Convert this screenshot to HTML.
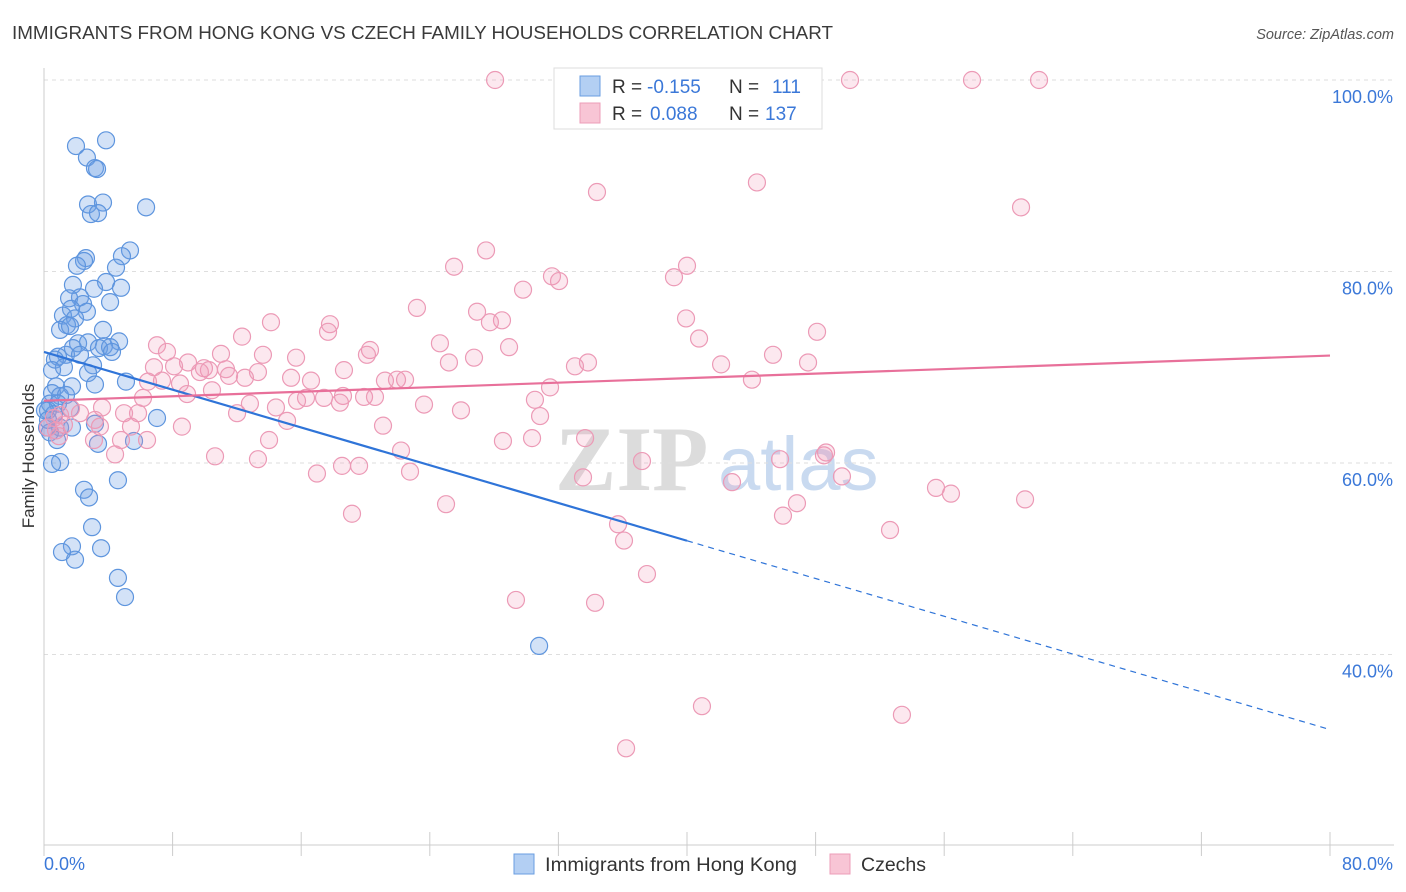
<!DOCTYPE html>
<html><head><meta charset="utf-8"><style>
body{margin:0;background:#fff;font-family:"Liberation Sans",sans-serif;}
svg{display:block}
</style></head><body>
<svg id="chart" width="1406" height="892" xmlns="http://www.w3.org/2000/svg">
<text x="12" y="39" font-size="18" fill="#3a3a3a" textLength="821" lengthAdjust="spacingAndGlyphs">IMMIGRANTS FROM HONG KONG VS CZECH FAMILY HOUSEHOLDS CORRELATION CHART</text>
<text x="1394" y="39" font-size="14.5" font-style="italic" fill="#555" text-anchor="end">Source: ZipAtlas.com</text>
<text transform="translate(34,456) rotate(-90)" font-size="17" fill="#333" text-anchor="middle">Family Households</text>
<g>
<text x="555" y="490" font-size="92" font-family="Liberation Serif,serif" fill="#dcdcdc" font-weight="bold">ZIP</text>
<text x="718" y="490" font-size="76" fill="#c9daf0">atlas</text>
</g>
<g id="grid"></g>
<g id="axes"></g>
<g id="pts"></g>
<g id="trend"></g>
<g>
<rect x="554" y="68" width="268" height="61" fill="#fff" stroke="#ddd"/>
<rect x="580" y="76" width="20" height="20" fill="#b3cff3" stroke="#6a9ee0"/>
<rect x="580" y="103" width="20" height="20" fill="#f8c5d5" stroke="#ec9db8"/>
<text x="612" y="93" font-size="19" fill="#333">R =</text>
<text x="647" y="93" font-size="19" fill="#3b78d8">-0.155</text>
<text x="729" y="93" font-size="19" fill="#333">N =</text>
<text x="772" y="93" font-size="19" fill="#3b78d8">111</text>
<text x="612" y="120" font-size="19" fill="#333">R =</text>
<text x="650" y="120" font-size="19" fill="#3b78d8">0.088</text>
<text x="729" y="120" font-size="19" fill="#333">N =</text>
<text x="765" y="120" font-size="19" fill="#3b78d8">137</text>
</g>
<g>
<rect x="514" y="854" width="20" height="20" fill="#b3cff3" stroke="#6a9ee0"/>
<text x="545" y="871" font-size="19" fill="#333" textLength="252" lengthAdjust="spacingAndGlyphs">Immigrants from Hong Kong</text>
<rect x="830" y="854" width="20" height="20" fill="#f8c5d5" stroke="#ec9db8"/>
<text x="861" y="871" font-size="19" fill="#333" textLength="65" lengthAdjust="spacingAndGlyphs">Czechs</text>
</g>
</svg>
<script>
const yTicks=[100,80,60,40];
const yTickLabels=["100.0%","80.0%","60.0%","40.0%"];
const xTicks=[0,8,16,24,32,40,48,56,64,72,80];
const blueX=[3.86,1.99,2.67,3.17,3.30,2.74,3.67,2.92,3.36,6.35,5.35,4.85,2.61,2.49,2.05,4.48,3.86,4.79,1.80,3.11,2.24,1.56,4.11,2.43,1.68,2.67,1.18,1.93,1.43,1.00,1.62,3.67,4.67,2.12,2.74,3.73,3.42,4.11,1.80,1.37,0.87,2.24,4.23,0.68,3.05,1.24,0.50,2.74,5.10,3.17,0.75,1.74,0.50,1.00,1.37,0.37,0.87,0.25,1.62,0.62,0.19,1.00,1.74,0.37,3.17,5.60,3.36,0.81,1.00,0.50,4.60,2.49,2.80,2.99,1.74,3.55,1.12,1.93,4.60,5.04,7.03,30.8,0.06,0.25];
const blueY=[93.7,93.1,91.9,90.8,90.7,87.0,87.2,86.0,86.1,86.7,82.2,81.6,81.4,81.1,80.6,80.4,78.9,78.3,78.6,78.2,77.3,77.2,76.8,76.6,76.1,75.8,75.4,75.1,74.4,73.9,74.3,73.9,72.7,72.5,72.6,72.2,72.0,72.1,72.0,71.3,71.1,71.3,71.6,70.8,70.2,70.0,69.7,69.4,68.5,68.2,68.0,68.0,67.3,67.0,67.1,66.2,66.2,65.5,65.7,65.1,63.7,63.7,63.7,63.2,64.1,62.3,62.0,62.4,60.1,59.9,58.2,57.2,56.4,53.3,51.3,51.1,50.7,49.9,48.0,46.0,64.7,40.9,65.5,64.5];
const pinkX=[28.06,41.74,50.14,57.73,61.90,34.40,44.35,60.78,27.50,25.51,31.60,32.04,40.00,39.19,29.80,23.20,26.94,28.49,27.74,39.94,14.12,17.79,17.67,12.32,48.09,7.03,24.63,28.93,20.28,20.09,40.75,45.35,47.53,7.65,13.62,15.68,11.01,8.96,26.75,25.19,33.84,33.03,42.12,6.84,8.09,9.95,11.32,10.26,13.31,9.70,11.51,12.50,18.66,44.04,15.37,16.61,21.21,21.96,22.46,31.48,7.34,6.47,8.46,10.45,8.90,6.16,16.30,18.60,17.42,15.74,19.91,20.59,18.41,30.54,23.64,12.81,14.43,25.94,12.01,5.85,1.68,3.61,4.98,2.24,0.62,30.86,3.17,15.12,1.24,8.58,3.48,5.41,21.09,0.75,3.11,4.79,0.93,4.42,14.00,6.41,28.55,30.36,33.66,22.21,13.31,10.64,37.20,45.79,48.52,48.65,19.60,18.54,16.98,22.77,42.80,33.53,49.64,55.49,56.42,61.03,25.01,46.84,45.97,19.16,52.63,35.71,36.08,37.51,29.36,34.28,40.93,53.37,36.21,1.00,0.25];
const pinkY=[100,100,100,100,100,88.3,89.3,86.7,82.2,80.5,79.5,79.0,80.6,79.4,78.1,76.2,75.8,74.9,74.7,75.1,74.7,74.5,73.7,73.2,73.7,72.3,72.5,72.1,71.8,71.3,73.0,71.3,70.5,71.6,71.3,71.0,71.4,70.5,71.0,70.5,70.5,70.1,70.3,70.0,70.1,69.9,69.8,69.7,69.5,69.5,69.1,68.9,69.7,68.7,68.9,68.6,68.6,68.7,68.7,67.9,68.6,68.5,68.3,67.6,67.2,66.8,66.8,67.0,66.8,66.5,66.9,66.9,66.3,66.6,66.1,66.2,65.8,65.5,65.2,65.2,65.7,65.8,65.2,65.2,64.7,64.9,64.5,64.4,64.0,63.8,63.8,63.8,63.9,63.4,62.4,62.4,62.8,60.9,62.4,62.4,62.3,62.6,62.6,61.3,60.4,60.7,60.2,60.4,60.8,61.1,59.7,59.7,58.9,59.1,58.0,58.5,58.6,57.4,56.8,56.2,55.7,55.8,54.5,54.7,53.0,53.6,51.9,48.4,45.7,45.4,34.6,33.7,30.2,65.0,63.7];
const blueTrend=[71.6,-0.493]; // intercept, slope
const pinkTrend=[66.5,0.059];
const blueSolidEnd=40;

const X=v=>44+v*16.075;
const Y=v=>80+(100-v)*9.575;
const NS="http://www.w3.org/2000/svg";
function mk(tag,parent,attrs){const e=document.createElementNS(NS,tag);for(const k in attrs)e.setAttribute(k,attrs[k]);parent.appendChild(e);return e;}
const grid=document.getElementById('grid'),axes=document.getElementById('axes'),pts=document.getElementById('pts'),tr=document.getElementById('trend');
yTicks.forEach((t,i)=>{
  const l=mk('line',grid,{x1:44,x2:1394,y1:Y(t),y2:Y(t),stroke:'#dedede','stroke-dasharray':'4,4'});
  
  
  const tx=mk('text',axes,{x:1393,y:Y(t)+23,'font-size':18,fill:'#3b78d8','text-anchor':'end'});
  tx.textContent=yTickLabels[i];
  
  
});
const ya=mk('line',axes,{x1:44,x2:44,y1:68,y2:845,stroke:'#ccc'});


const xa=mk('line',axes,{x1:44,x2:1394,y1:845,y2:845,stroke:'#ccc'});


xTicks.forEach(t=>{
  const l=mk('line',axes,{x1:X(t),x2:X(t),y1:832,y2:856,stroke:'#ccc'});
  
  
});
const x0=mk('text',axes,{x:44,y:870,'font-size':18,fill:'#3b78d8'});x0.textContent='0.0%';


const x1=mk('text',axes,{x:1393,y:870,'font-size':18,fill:'#3b78d8','text-anchor':'end'});x1.textContent='80.0%';


blueX.forEach((v,i)=>{
  const c=mk('circle',pts,{cx:X(v),cy:Y(blueY[i]),r:8.5,fill:'rgba(110,160,230,0.3)',stroke:'#5e95de','stroke-width':1.2});
  
  
});
pinkX.forEach((v,i)=>{
  const c=mk('circle',pts,{cx:X(v),cy:Y(pinkY[i]),r:8.5,fill:'rgba(240,150,180,0.22)',stroke:'#ec9ab6','stroke-width':1.2});
  
  
});
const bf=x=>blueTrend[0]+blueTrend[1]*x, pf=x=>pinkTrend[0]+pinkTrend[1]*x;
const b1=mk('line',tr,{x1:X(0),y1:Y(bf(0)),x2:X(blueSolidEnd),y2:Y(bf(blueSolidEnd)),stroke:'#2f74d8','stroke-width':2.2});


const b2=mk('line',tr,{x1:X(blueSolidEnd),y1:Y(bf(blueSolidEnd)),x2:X(80),y2:Y(bf(80)),stroke:'#2f74d8','stroke-width':1.2,'stroke-dasharray':'6,5'});


const p1=mk('line',tr,{x1:X(0),y1:Y(pf(0)),x2:X(80),y2:Y(pf(80)),stroke:'#e8709a','stroke-width':2.2});


</script>
</body></html>
